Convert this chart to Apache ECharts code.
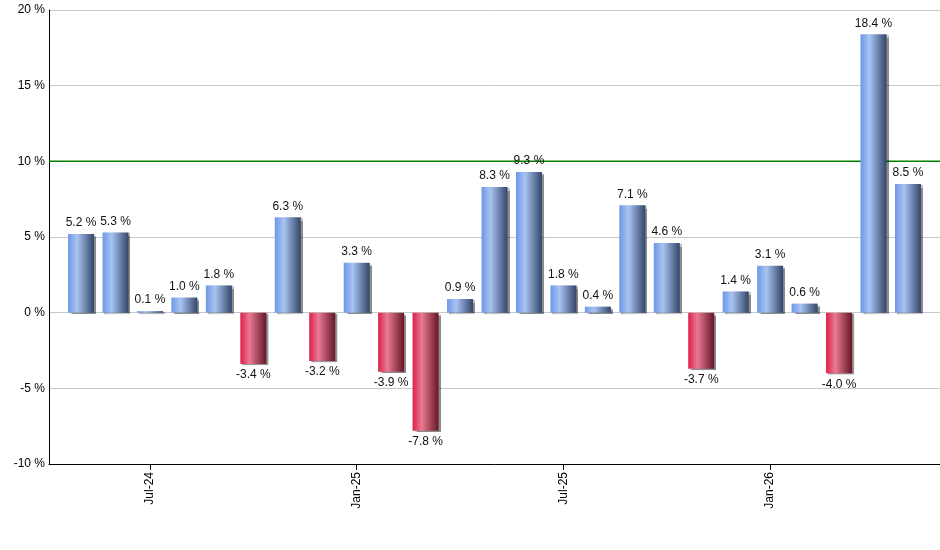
<!DOCTYPE html>
<html>
<head>
<meta charset="utf-8">
<script src="https://cdn.jsdelivr.net/npm/echarts@6/dist/echarts.min.js"></script>
<style>
html, body { margin: 0; padding: 0; background: #fff; }
#main { width: 940px; height: 550px; }
</style>
</head>
<body>
<div id="main"></div>
<script>
// 月份（每根柱子一个）
var months = ['May-24', 'Jun-24', 'Jul-24', 'Aug-24', 'Sep-24', 'Oct-24', 'Nov-24', 'Dec-24',
    'Jan-25', 'Feb-25', 'Mar-25', 'Apr-25', 'May-25', 'Jun-25', 'Jul-25', 'Aug-25',
    'Sep-25', 'Oct-25', 'Nov-25', 'Dec-25', 'Jan-26', 'Feb-26', 'Mar-26', 'Apr-26', 'May-26']
// 月收益率 %
var returns = [5.2, 5.3, 0.1, 1.0, 1.8, -3.4, 6.3, -3.2, 3.3, -3.9, -7.8, 0.9, 8.3, 9.3,
    1.8, 0.4, 7.1, 4.6, -3.7, 1.4, 3.1, 0.6, -4.0, 18.4, 8.5]
// 横轴上显示标签的位置
var tickIndex = [2, 8, 14, 20]
// 目标线
var targetLine = 10
// 横轴范围（柱子编号）
var xMin = -0.93
var xMax = 24.93

var blueFill = new echarts.graphic.LinearGradient(0, 0, 1, 0, [
    { offset: 0, color: '#6c98e6' },
    { offset: 0.35, color: '#a9c4f2' },
    { offset: 1, color: '#33456a' }
])
var redFill = new echarts.graphic.LinearGradient(0, 0, 1, 0, [
    { offset: 0, color: '#dc1f4a' },
    { offset: 0.35, color: '#e97a92' },
    { offset: 1, color: '#661628' }
])

var barData = returns.map(function (v, i) {
    return {
        value: [i, v],
        itemStyle: {
            color: v >= 0 ? blueFill : redFill,
            shadowColor: 'rgba(0,0,0,0.45)',
            shadowOffsetX: 2,
            shadowOffsetY: 1,
            shadowBlur: 1
        },
        label: { position: v >= 0 ? 'top' : 'bottom' }
    }
})

var myChart = echarts.init(document.getElementById('main'))
var font = 'Liberation Sans, Arial, sans-serif'
var option = {
    animation: false,
    grid: { left: 49, right: 0, top: 10, bottom: 86 },
    xAxis: {
        type: 'value',
        min: xMin,
        max: xMax,
        splitLine: { show: false },
        axisLine: { onZero: false, lineStyle: { color: '#000', width: 1 } },
        axisTick: { customValues: tickIndex, length: 6, lineStyle: { color: '#000' } },
        axisLabel: {
            customValues: tickIndex,
            rotate: 90,
            margin: 8,
            color: '#000',
            fontSize: 12,
            fontFamily: font,
            formatter: function (v) { return months[Math.round(v)] }
        }
    },
    yAxis: {
        type: 'value',
        min: -10,
        max: 20,
        interval: 5,
        axisLine: { show: true, onZero: false, lineStyle: { color: '#000', width: 1 } },
        axisTick: { show: false },
        splitLine: { lineStyle: { color: '#c8c8c8', width: 1 } },
        axisLabel: {
            color: '#000',
            fontSize: 12,
            fontFamily: font,
            margin: 4,
            formatter: '{value} %'
        }
    },
    series: [
        {
            // 目标线
            type: 'line',
            silent: true,
            z: 1,
            symbol: 'none',
            lineStyle: { color: '#008000', width: 1.5 },
            data: [[xMin, targetLine], [xMax, targetLine]]
        },
        {
            type: 'bar',
            z: 2,
            barWidth: 26,
            data: barData,
            label: {
                show: true,
                distance: 5,
                color: '#111',
                fontSize: 12,
                fontFamily: font,
                formatter: function (p) { return p.value[1].toFixed(1) + ' %' }
            }
        }
    ]
}
myChart.setOption(option)
</script>
</body>
</html>
